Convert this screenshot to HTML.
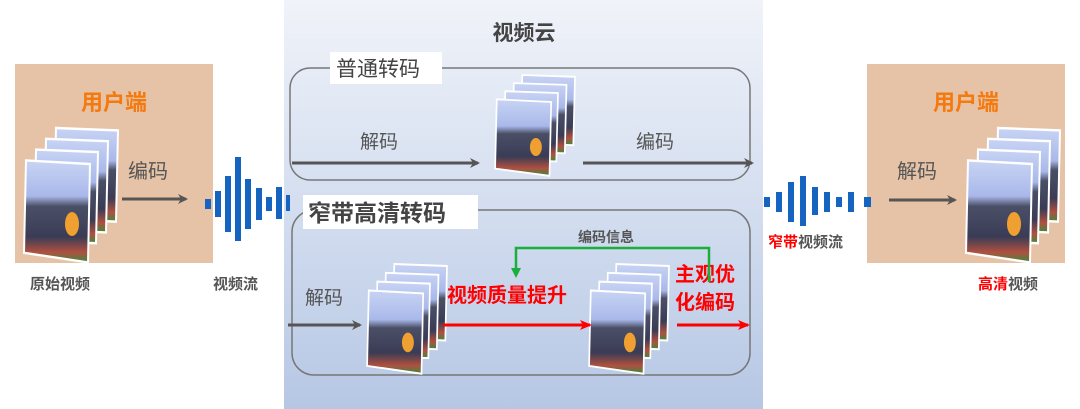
<!DOCTYPE html>
<html><head><meta charset="utf-8"><style>
body{margin:0;background:#fff;}
svg{display:block;font-family:"Liberation Sans","Noto Sans CJK SC",sans-serif;}
</style></head><body>
<svg width="1080" height="409" viewBox="0 0 1080 409" xmlns="http://www.w3.org/2000/svg">
<defs>
<linearGradient id="cloud" x1="0" y1="0" x2="0" y2="1">
<stop offset="0" stop-color="#f0f3f9"/><stop offset="0.5" stop-color="#d4def0"/><stop offset="1" stop-color="#b6c7e4"/></linearGradient>
<linearGradient id="pic" x1="0" y1="0" x2="0" y2="1">
<stop offset="0" stop-color="#c8d4f4"/><stop offset="0.35" stop-color="#a9b8ea"/><stop offset="0.45" stop-color="#4a4f66"/><stop offset="0.75" stop-color="#3a3c55"/><stop offset="0.9" stop-color="#b05040"/><stop offset="1" stop-color="#3c8a3c"/></linearGradient>
<marker id="ag" markerWidth="10" markerHeight="10" refX="8" refY="5" orient="auto" markerUnits="userSpaceOnUse"><path d="M0,0 L10,5 L0,10 L3,5z" fill="#555"/></marker>
<marker id="ar" markerWidth="12" markerHeight="10" refX="10" refY="5" orient="auto" markerUnits="userSpaceOnUse"><path d="M0,0 L12,5 L0,10 L3,5z" fill="#f00"/></marker>
<g id="stk">
<g><polygon points="38,0 100,2 98,78 36,76" fill="url(#pic)" stroke="#fff" stroke-width="2"/></g>
<g><polygon points="28,9 90,11 88,87 26,85" fill="url(#pic)" stroke="#fff" stroke-width="2"/></g>
<g><polygon points="18,18 80,20 78,96 16,94" fill="url(#pic)" stroke="#fff" stroke-width="2"/></g>
<g><polygon points="8,27 72,30 70,112 6,104" fill="url(#pic)" stroke="#fff" stroke-width="2"/>
<ellipse cx="54" cy="80" rx="7" ry="10" fill="#f0a030"/></g>
</g>
</defs>

<rect x="15" y="64" width="198" height="199" fill="#e6c3a6"/>
<rect x="867" y="64" width="198" height="199" fill="#e6c3a6"/>
<rect x="284" y="0" width="479" height="409" fill="url(#cloud)"/>
<text x="524" y="40" text-anchor="middle" font-size="21" font-weight="bold" fill="#444">视频云</text>

<rect x="290" y="68" width="460" height="112" rx="20" fill="none" stroke="#777" stroke-width="1.5"/>
<rect x="330" y="52" width="112" height="32" fill="#fff"/>
<text x="336" y="76" font-size="21" fill="#444">普通转码</text>
<rect x="292" y="210" width="458" height="165" rx="22" fill="none" stroke="#777" stroke-width="1.5"/>
<rect x="303" y="195" width="175" height="34" fill="#fff"/>
<text x="308" y="221" font-size="23" font-weight="bold" fill="#444">窄带高清转码</text>

<text x="114" y="110" text-anchor="middle" font-size="22" font-weight="bold" fill="#f47a10">用户端</text>
<text x="966" y="110" text-anchor="middle" font-size="22" font-weight="bold" fill="#f47a10">用户端</text>

<use href="#stk" transform="translate(18,128) scale(1,1.2)"/>
<use href="#stk" transform="translate(960,128) scale(1,1.2)"/>
<use href="#stk" transform="translate(490,75) scale(0.85,0.9)"/>
<use href="#stk" transform="translate(362,264) scale(0.85,0.98)"/>
<use href="#stk" transform="translate(584,264) scale(0.85,0.98)"/>

<text x="128" y="178" font-size="20" fill="#555">编码</text>
<line x1="122" y1="199" x2="186" y2="199" stroke="#555" stroke-width="3" marker-end="url(#ag)"/>
<text x="360" y="148" font-size="19" fill="#555">解码</text>
<line x1="292" y1="163" x2="478" y2="163" stroke="#555" stroke-width="3" marker-end="url(#ag)"/>
<text x="636" y="148" font-size="19" fill="#555">编码</text>
<line x1="583" y1="163" x2="752" y2="163" stroke="#555" stroke-width="3" marker-end="url(#ag)"/>
<text x="305" y="304" font-size="19" fill="#555">解码</text>
<line x1="288" y1="325" x2="360" y2="325" stroke="#555" stroke-width="3" marker-end="url(#ag)"/>
<text x="897" y="178" font-size="20" fill="#555">解码</text>
<line x1="889" y1="200" x2="955" y2="200" stroke="#555" stroke-width="3" marker-end="url(#ag)"/>

<text x="447" y="302" font-size="20" font-weight="bold" fill="#f00">视频质量提升</text>
<line x1="443" y1="325" x2="590" y2="325" stroke="#f00" stroke-width="3" marker-end="url(#ar)"/>
<text x="675" y="281" font-size="20" font-weight="bold" fill="#f00">主观优</text>
<text x="675" y="309" font-size="20" font-weight="bold" fill="#f00">化编码</text>
<line x1="677" y1="325" x2="748" y2="325" stroke="#f00" stroke-width="3" marker-end="url(#ar)"/>
<polyline points="709,282 709,248 516,248 516,272" fill="none" stroke="#1aae3c" stroke-width="2.5"/>
<path d="M511,268 L521,268 L516,278z" fill="#1aae3c"/>
<text x="578" y="242" font-size="14" font-weight="bold" fill="#555">编码信息</text>

<g fill="#1565c0">
<rect x="205" y="199" width="6" height="10"/><rect x="215" y="191" width="6" height="26"/>
<rect x="225" y="176" width="6" height="56"/><rect x="235" y="157" width="6" height="84"/>
<rect x="245" y="179" width="6" height="50"/><rect x="256" y="188" width="6" height="32"/>
<rect x="266" y="197" width="6" height="14"/><rect x="276" y="187" width="6" height="32"/>
<rect x="286" y="195" width="4" height="16"/>
<rect x="764" y="197" width="6" height="10"/><rect x="776" y="192" width="6" height="20"/>
<rect x="788" y="182" width="6" height="40"/><rect x="800" y="176" width="6" height="50"/>
<rect x="812" y="187" width="6" height="28"/><rect x="824" y="192" width="6" height="20"/>
<rect x="836" y="197" width="6" height="10"/><rect x="848" y="192" width="6" height="20"/>
<rect x="864" y="197" width="7" height="10"/>
</g>

<g font-size="15" font-weight="bold" fill="#555">
<text x="30" y="289">原始视频</text>
<text x="213" y="289">视频流</text>
<text x="768" y="247"><tspan fill="#f00">窄带</tspan>视频流</text>
<text x="978" y="289"><tspan fill="#f00">高清</tspan>视频</text>
</g>
</svg>
</body></html>
